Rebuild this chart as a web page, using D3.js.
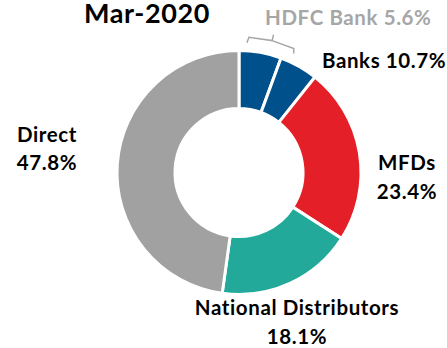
<!DOCTYPE html>
<html>
<head>
<meta charset="utf-8">
<script src="https://cdn.jsdelivr.net/npm/d3@7"></script>
<style>
  html, body { margin: 0; padding: 0; background: #fff; }
  svg { display: block; }
  text { font-family: Lato, "Open Sans", sans-serif; font-weight: 700; }
</style>
</head>
<body>
<svg id="chart" width="447" height="348"></svg>
<script>
// Distribution channel share, Mar-2020
const title = "Mar-2020";
const segments = ["HDFC Bank", "Other Banks", "MFDs", "National Distributors", "Direct"];
const shares = [5.6, 5.1, 23.4, 18.1, 47.8];
const colors = ["#00508C", "#00508C", "#E41F27", "#22A99A", "#A1A1A1"];

// label lines for each channel group
const bankTotal = 10.7;
const hdfcLabel = "HDFC Bank 5.6%";

const svg = d3.select("#chart");
const cx = 239, cy = 172.5;
const outerR = 122, innerR = 64;

const pie = d3.pie().sort(null).value(d => d.value);
const arcs = pie(segments.map((s, i) => ({ name: s, value: shares[i], color: colors[i] })));

const arc = d3.arc().innerRadius(innerR).outerRadius(outerR);

const g = svg.append("g").attr("transform", `translate(${cx},${cy})`);

g.selectAll("path.slice")
  .data(arcs)
  .enter()
  .append("path")
  .attr("class", "slice")
  .attr("d", arc)
  .attr("fill", d => d.data.color)
  .attr("stroke", "#fff")
  .attr("stroke-width", 3)
  .attr("stroke-linejoin", "miter");

// bracket over the HDFC slice
const hdfc = arcs[0];
const deg = Math.PI / 180;
const polar = (a, r) => [r * Math.sin(a), -r * Math.cos(a)];
const a0 = hdfc.startAngle + 3.5 * deg, a1 = hdfc.endAngle + 4.5 * deg;
const am = (a0 + a1) / 2;
const p = [
  polar(a0, 130), polar(a0 + 0.7 * deg, 135.5),
  polar(am, 136), polar(am, 142), polar(am, 136),
  polar(a1 - 0.8 * deg, 135.5), polar(a1, 131)
];
g.append("path")
  .attr("d", `M${p[0]}L${p[1]}L${p[2]}L${p[3]}M${p[2]}L${p[5]}L${p[6]}`)
  .attr("fill", "none")
  .attr("stroke", "#A6A6A6")
  .attr("stroke-width", 1.5);

// text labels
const labels = [
  { lines: [title], x: 147, y: 23, size: 27, anchor: "middle", color: "#000" },
  { lines: [hdfcLabel], x: 265, y: 25, size: 20.5, anchor: "start", color: "#A6A6A6" },
  { lines: [`Banks ${bankTotal}%`], x: 322, y: 67.5, size: 20.5, anchor: "start", color: "#000" },
  { lines: [segments[2], `${shares[2]}%`], x: 407, y: 170, size: 20.5, anchor: "middle", color: "#000" },
  { lines: [segments[3], `${shares[3]}%`], x: 297, y: 315, size: 20.5, anchor: "middle", color: "#000" },
  { lines: [segments[4], `${shares[4]}%`], x: 47, y: 141.5, size: 20.5, anchor: "middle", color: "#000" }
];

labels.forEach(l => {
  const t = svg.append("text")
    .attr("x", l.x)
    .attr("y", l.y)
    .attr("text-anchor", l.anchor)
    .attr("font-size", l.size)
    .attr("letter-spacing", 0.6)
    .attr("fill", l.color);
  l.lines.forEach((line, i) => {
    t.append("tspan")
      .attr("x", l.x)
      .attr("dy", i === 0 ? 0 : 28.5)
      .text(line);
  });
});
</script>
</body>
</html>
